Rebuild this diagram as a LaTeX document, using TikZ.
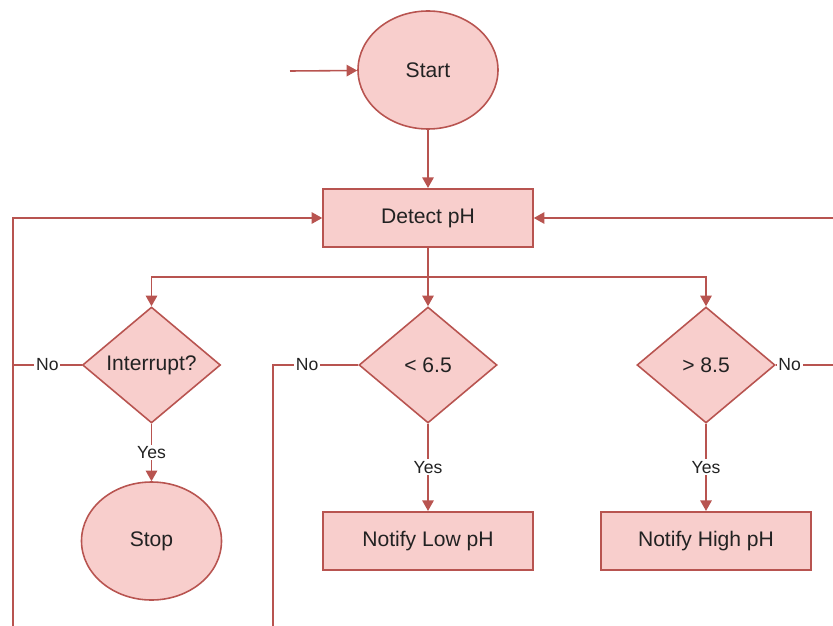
\documentclass[tikz,border=0pt]{standalone}
\usepackage{fontspec}
\setmainfont{Liberation Sans}
\usetikzlibrary{shapes.geometric, positioning, arrows.meta}
\definecolor{nodefill}{HTML}{F8CECC}
\definecolor{nodeline}{HTML}{B85450}
\definecolor{nodetext}{HTML}{222222}

\begin{document}
\begin{tikzpicture}[
  roundnode/.style={ellipse, draw=nodeline, fill=nodefill, minimum width=2.8cm, minimum height=2.36cm, inner sep=0pt, text=nodetext, font=\fontsize{12}{14}\selectfont},
  procnode/.style={rectangle, draw=nodeline, fill=nodefill, minimum width=4.2cm, minimum height=1.17cm, inner sep=0pt, text=nodetext, font=\fontsize{12}{14}\selectfont},
  decnode/.style={diamond, draw=nodeline, fill=nodefill, minimum width=2.76cm, minimum height=2.32cm, inner sep=0pt, text=nodetext, font=\fontsize{12}{14}\selectfont},
  lbl/.style={fill=white, inner sep=1pt, text=nodetext, font=\fontsize{10}{12}\selectfont},
  wire/.style={draw=nodeline},
  line width=0.9pt,
  >={Triangle[length=6pt, width=6.5pt]}
]
  \useasboundingbox (0,0) rectangle (16.66,-12.5);

  % Start and detection
  \coordinate (in) at (5.8,-1.42);
  \node[roundnode] (start) at (8.56,-1.4) {Start};
  \node[procnode] (detect) at (8.56,-4.36) {Detect pH};
  \draw[wire,->] (in) -- (start);
  \draw[wire,->] (start) -- (detect);

  % Decisions
  \coordinate (hub) at (8.56,-5.54);
  \node[decnode] (intr) at (3.03,-7.3) {Interrupt?};
  \node[decnode] (lt) at (8.56,-7.3) {< 6.5};
  \node[decnode] (gt) at (14.12,-7.3) {> 8.5};
  \draw[wire] (detect) -- (hub);
  \draw[wire,->] (hub) -| (intr.north);
  \draw[wire,->] (hub) -- (lt);
  \draw[wire,->] (hub) -| (gt.north);

  % Results
  \node[roundnode] (stop) at (3.03,-10.82) {Stop};
  \node[procnode] (low) at (8.56,-10.82) {Notify Low pH};
  \node[procnode] (high) at (14.12,-10.82) {Notify High pH};
  \draw[wire,->] (intr) -- node[lbl] {Yes} (stop);
  \draw[wire,->] (lt) -- node[lbl] {Yes} (low);
  \draw[wire,->] (gt) -- node[lbl] {Yes} (high);

  % No branches
  \coordinate (lbot) at (0.26,-12.8);
  \coordinate (mbot) at (5.46,-12.8);
  \coordinate (rtop) at (16.9,-4.36);
  \draw[wire] (intr.west) -- node[lbl] {No} (intr.west -| lbot);
  \draw[wire,->] (lbot) |- (detect.west);
  \draw[wire] (lt.west) -- node[lbl, pos=0.6] {No} (lt.west -| mbot) -- (mbot);
  \draw[wire,->] (gt.east) node[lbl, anchor=west] {No} -| (rtop) -- (detect.east);
\end{tikzpicture}
\end{document}
